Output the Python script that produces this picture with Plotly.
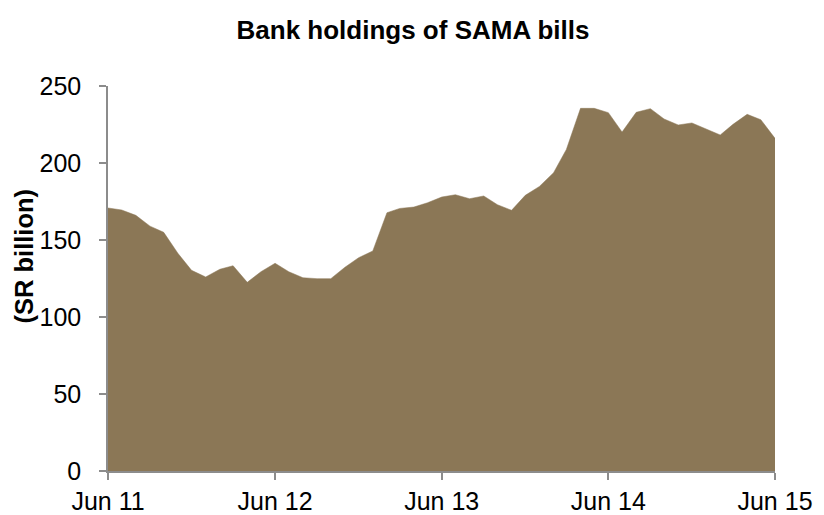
import plotly.graph_objects as go
import pandas as pd

months = pd.date_range("2011-06-01", "2015-06-01", freq="MS").strftime("%Y-%m-%d").tolist()
holdings = [170.8, 169.5, 166.0, 159.0, 155.0, 141.4, 130.3, 126.0, 131.0, 133.3,
            122.5, 129.4, 134.9, 129.4, 125.5, 124.9, 124.9, 132.3, 138.5, 142.9,
            167.7, 170.5, 171.4, 174.2, 177.9, 179.4, 176.8, 178.6, 172.9, 169.3,
            179.0, 184.8, 193.7, 208.8, 235.5, 235.5, 232.7, 220.1, 232.9, 235.3,
            228.6, 224.7, 226.0, 221.9, 218.2, 225.1, 231.6, 228.1, 216.0]
y_ticks = [0, 50, 100, 150, 200, 250]

fill_color = "#8B7756"
axis_color = "#8C8C8C"
font_family = "Liberation Sans, Arial, sans-serif"

fig = go.Figure()
fig.add_trace(go.Scatter(
    x=months, y=holdings, mode="lines", fill="tozeroy",
    line=dict(color=fill_color, width=0.5), fillcolor=fill_color,
    showlegend=False, hoverinfo="skip",
))

W, H = 816, 507
fig.update_layout(
    width=W, height=H,
    margin=dict(l=100, r=49, t=78, b=44, autoexpand=False),
    paper_bgcolor="white", plot_bgcolor="white",
    font=dict(family=font_family, size=25, color="black"),
    title=dict(text="<b>Bank holdings of SAMA bills</b>", x=405 / W, xanchor="center",
               xref="container", y=1 - 22 / H, yanchor="middle", yref="container",
               font=dict(size=26, color="black")),
    xaxis=dict(
        type="date", range=[months[0], months[-1]],
        tickvals=[months[i] for i in range(0, len(months), 12)],
        tickformat="%b %y", automargin=False,
        showline=True, linecolor=axis_color, linewidth=1.5,
        ticks="outside", ticklen=7, tickcolor=axis_color, tickwidth=1.5,
        showgrid=False, zeroline=False,
        tickfont=dict(size=25, color="black"),
    ),
    yaxis=dict(
        range=[0, 250], tickvals=y_ticks, automargin=False,
        showline=True, linecolor=axis_color, linewidth=1.5,
        ticks="outside", ticklen=7, tickcolor=axis_color, tickwidth=1.5,
        showgrid=False, zeroline=False,
        ticklabelstandoff=13,
        tickfont=dict(size=25, color="black"),
    ),
    annotations=[dict(
        text="<b>(SR billion)</b>", textangle=-90, xref="paper", yref="paper",
        x=-0.126, y=0.5597, xanchor="center", yanchor="middle", showarrow=False,
        font=dict(size=25.5, color="black"),
    )],
)

fig.write_html("out.html")
